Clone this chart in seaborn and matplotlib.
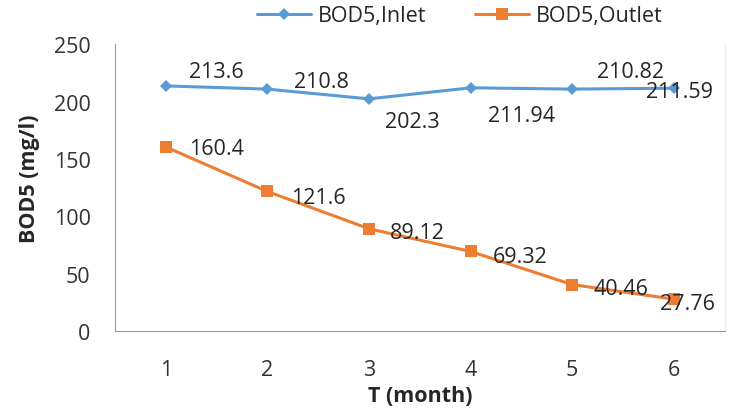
import matplotlib
matplotlib.use("Agg")
import matplotlib.pyplot as plt
import seaborn as sns
import pandas as pd

months = [1, 2, 3, 4, 5, 6]
inlet = [213.6, 210.8, 202.3, 211.94, 210.82, 211.59]
outlet = [160.4, 121.6, 89.12, 69.32, 40.46, 27.76]
inlet_labels = ["213.6", "210.8", "202.3", "211.94", "210.82", "211.59"]
outlet_labels = ["160.4", "121.6", "89.12", "69.32", "40.46", "27.76"]

# label offsets (points, baseline-anchored) – styling only
inlet_offsets = [(16.6, 6.1), (19.4, 1.8), (11.5, -20.5), (12.2, -24.1), (18, 9), (-20.2, -6.1)]
outlet_offsets = [(16.6, -5.4), (17.3, -8.3), (15.1, -6.8), (15.8, -7.6), (15.1, -6.8), (-10.1, -6.8)]

sns.set_theme(style="white")
plt.rcParams["font.family"] = ["Open Sans", "DejaVu Sans"]

df = pd.DataFrame({
    "month": months * 2,
    "value": inlet + outlet,
    "series": ["BOD5,Inlet"] * 6 + ["BOD5,Outlet"] * 6,
})

fig = plt.figure(figsize=(7.32, 4.14), dpi=100)
ax = fig.add_axes([0.157, 0.198, 0.833, 0.693])

blue = "#5B9BD5"
orange = "#ED7D31"
sns.lineplot(data=df[df.series == "BOD5,Inlet"], x="month", y="value", color=blue,
             marker="D", markersize=6, markeredgewidth=0, linewidth=2.2, ax=ax,
             label="BOD5,Inlet")
sns.lineplot(data=df[df.series == "BOD5,Outlet"], x="month", y="value", color=orange,
             marker="s", markersize=8.5, markeredgewidth=0, linewidth=2.2, ax=ax,
             label="BOD5,Outlet")

fs = 15.5
tc = "#262626"
for m, v, lab, off in zip(months, inlet, inlet_labels, inlet_offsets):
    ax.annotate(lab, (m, v), xytext=off, textcoords="offset points",
                ha="left", va="baseline", fontsize=fs, color=tc, zorder=5)
for m, v, lab, off in zip(months, outlet, outlet_labels, outlet_offsets):
    ax.annotate(lab, (m, v), xytext=off, textcoords="offset points",
                ha="left", va="baseline", fontsize=fs, color=tc, zorder=5)

ax.set_xlim(0.5, 6.5)
ax.set_ylim(0, 250)
ax.set_xticks(months)
ax.set_xticklabels([str(m) for m in months])
ax.set_yticks([0, 50, 100, 150, 200, 250])
ax.tick_params(axis="y", direction="out", length=6.5, width=0.8, color="#999999",
               labelsize=fs, labelcolor="#333333", pad=11)
ax.tick_params(axis="x", length=0, labelsize=fs, labelcolor="#333333", pad=20)
ax.spines["top"].set_visible(False)
ax.spines["right"].set_color("#eeeeee")
ax.spines["right"].set_linewidth(0.8)
for s in ["left", "bottom"]:
    ax.spines[s].set_color("#999999")
    ax.spines[s].set_linewidth(0.8)

ax.set_xlabel("T (month)", fontsize=fs, fontweight="bold", labelpad=4, color=tc)
ax.set_ylabel("BOD5 (mg/l)", fontsize=fs, fontweight="bold", color=tc)
ax.yaxis.set_label_coords(-0.123, 0.535)

handles, labels = ax.get_legend_handles_labels()
ax.legend_.remove()
fig.legend(handles, labels, loc="center", bbox_to_anchor=(0.628, 0.959), ncol=2,
           frameon=False, fontsize=fs, handlelength=2.5, columnspacing=2.3,
           handletextpad=0.3, labelcolor=tc)

fig.savefig("out.png", dpi=100)
